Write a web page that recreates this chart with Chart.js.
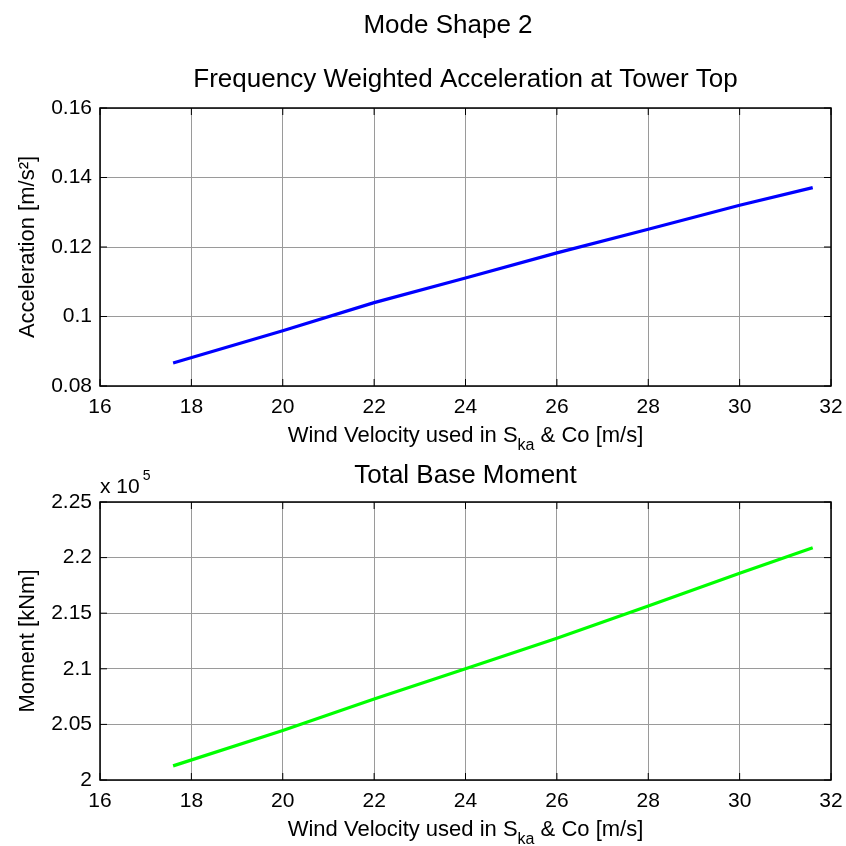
<!DOCTYPE html>
<html>
<head>
<meta charset="utf-8">
<title>Mode Shape 2</title>
<script src="https://cdn.jsdelivr.net/npm/chart.js@4.4.0/dist/chart.umd.min.js"></script>
<style>
  html, body { margin: 0; padding: 0; background: #fff; }
  #wrap { position: relative; width: 846px; height: 846px; }
  .box { position: absolute; left: 0; width: 846px; }
</style>
</head>
<body>
<div id="wrap">
  <div class="box" style="top:0;height:460px"><canvas id="accChart"></canvas></div>
  <div class="box" style="top:460px;height:386px"><canvas id="momentChart"></canvas></div>
</div>
<script>
// values
var windSpeed = [17.6, 20, 22, 24, 26, 28, 30, 31.6];
var acceleration = [0.0866, 0.0959, 0.1040, 0.1111, 0.1183, 0.1251, 0.1320, 0.1371];
var baseMoment = [201270, 204460, 207290, 210000, 212740, 215640, 218600, 220880];

var windTicks = [16, 18, 20, 22, 24, 26, 28, 30, 32];
var accTicks = [0.08, 0.1, 0.12, 0.14, 0.16];
var momentTicks = [200000, 205000, 210000, 215000, 220000, 225000];

var FONT = "'Liberation Sans', Arial, sans-serif";
Chart.defaults.font.family = FONT;
Chart.defaults.color = '#000';

function points(xs, ys) {
    return xs.map(function(x, i) { return { x: x, y: ys[i] }; });
}

// x label with the S_ka subscript
function drawXLabel(ctx, cx, baseY) {
    var parts = [
        { t: 'Wind Velocity used in S', size: 22, dy: 0 },
        { t: 'ka', size: 16, dy: 8 },
        { t: ' & Co [m/s]', size: 22, dy: 0 }
    ];
    var total = 0;
    parts.forEach(function(p) {
        ctx.font = p.size + 'px ' + FONT;
        p.w = ctx.measureText(p.t).width;
        total += p.w;
    });
    var x = cx - total / 2;
    ctx.fillStyle = '#000';
    ctx.textAlign = 'left';
    ctx.textBaseline = 'alphabetic';
    parts.forEach(function(p) {
        ctx.font = p.size + 'px ' + FONT;
        ctx.fillText(p.t, x, baseY + p.dy);
        x += p.w;
    });
}

// box round the axes with inward ticks, plus the loose texts
var frame = {
    id: 'frame',
    afterDraw: function(chart) {
        var a = chart.chartArea, ctx = chart.ctx;
        var xs = chart.scales.x, ys = chart.scales.y;
        ctx.save();
        ctx.strokeStyle = '#000';
        ctx.lineWidth = 1;
        ctx.beginPath();
        xs.ticks.forEach(function(t) {
            var px = xs.getPixelForValue(t.value);
            ctx.moveTo(px, a.top); ctx.lineTo(px, a.top + 7);
            ctx.moveTo(px, a.bottom); ctx.lineTo(px, a.bottom - 7);
        });
        ys.ticks.forEach(function(t) {
            var py = ys.getPixelForValue(t.value);
            ctx.moveTo(a.left, py); ctx.lineTo(a.left + 7, py);
            ctx.moveTo(a.right, py); ctx.lineTo(a.right - 7, py);
        });
        ctx.stroke();
        ctx.lineWidth = 1.5;
        ctx.strokeRect(a.left, a.top, a.right - a.left, a.bottom - a.top);

        var extra = chart.options.plugins.frame;
        drawXLabel(ctx, (a.left + a.right) / 2, a.bottom + extra.xLabelOffset);
        if (extra.figTitle) {
            ctx.font = '26px ' + FONT;
            ctx.textAlign = 'center';
            ctx.textBaseline = 'alphabetic';
            ctx.fillText(extra.figTitle, 448, 33);
        }
        if (extra.exponent) {
            ctx.font = '21px ' + FONT;
            ctx.textAlign = 'left';
            ctx.textBaseline = 'alphabetic';
            ctx.fillText('x 10', a.left, 33);
            var w = ctx.measureText('x 10').width;
            ctx.font = '14px ' + FONT;
            ctx.fillText(extra.exponent, a.left + w + 3, 20);
        }
        ctx.restore();
    }
};

function makeChart(id, o) {
    return new Chart(document.getElementById(id), {
        type: 'line',
        data: {
            datasets: [{
                data: points(windSpeed, o.values),
                borderColor: o.color,
                borderWidth: 3.2,
                pointRadius: 0,
                fill: false,
                tension: 0
            }]
        },
        options: {
            responsive: true,
            maintainAspectRatio: false,
            animation: false,
            layout: { padding: { top: o.padTop, right: 15, left: 0, bottom: 0 } },
            plugins: {
                legend: { display: false },
                tooltip: { enabled: false },
                title: {
                    display: true,
                    text: o.title,
                    fullSize: false,
                    color: '#000',
                    font: { size: 26, weight: 'normal', lineHeight: 1 },
                    padding: o.titlePad
                },
                frame: o.frame
            },
            scales: {
                x: {
                    type: 'linear',
                    min: 16,
                    max: 32,
                    afterBuildTicks: function(s) { s.ticks = windTicks.map(function(v) { return { value: v }; }); },
                    afterFit: function(s) {
                        s.height = o.xHeight;
                        s.paddingLeft = 0;
                        s.paddingRight = 0;
                    },
                    ticks: { font: { size: 21 }, padding: 9, maxRotation: 0, autoSkip: false, color: '#000' },
                    grid: { color: '#9a9a9a', lineWidth: 1, drawTicks: false },
                    border: { display: false }
                },
                y: {
                    min: o.yTicks[0],
                    max: o.yTicks[o.yTicks.length - 1],
                    afterBuildTicks: function(s) { s.ticks = o.yTicks.map(function(v) { return { value: v }; }); },
                    afterFit: function(s) { s.width = 100; },
                    ticks: { font: { size: 21 }, padding: 8, color: '#000', callback: o.tickLabel },
                    grid: { color: '#9a9a9a', lineWidth: 1, drawTicks: false },
                    border: { display: false },
                    title: {
                        display: true,
                        text: o.yTitle,
                        color: '#000',
                        font: { size: 22 },
                        padding: { top: 15, bottom: 0 }
                    }
                }
            }
        },
        plugins: [frame]
    });
}

makeChart('accChart', {
    values: acceleration,
    color: '#0000ff',
    title: 'Frequency Weighted Acceleration at Tower Top',
    padTop: 50,
    titlePad: { top: 17, bottom: 15 },
    xHeight: 74,
    yTicks: accTicks,
    yTitle: 'Acceleration [m/s\u00b2]',
    tickLabel: function(v) { return String(+v.toFixed(2)); },
    frame: { xLabelOffset: 56, figTitle: 'Mode Shape 2' }
});

makeChart('momentChart', {
    values: baseMoment,
    color: '#00ff00',
    title: 'Total Base Moment',
    padTop: 0,
    titlePad: { top: 3, bottom: 13 },
    xHeight: 66,
    yTicks: momentTicks,
    yTitle: 'Moment [kNm]',
    tickLabel: function(v) { return String(+(v / 1e5).toFixed(2)); },
    frame: { xLabelOffset: 56, exponent: '5' }
});
</script>
</body>
</html>
